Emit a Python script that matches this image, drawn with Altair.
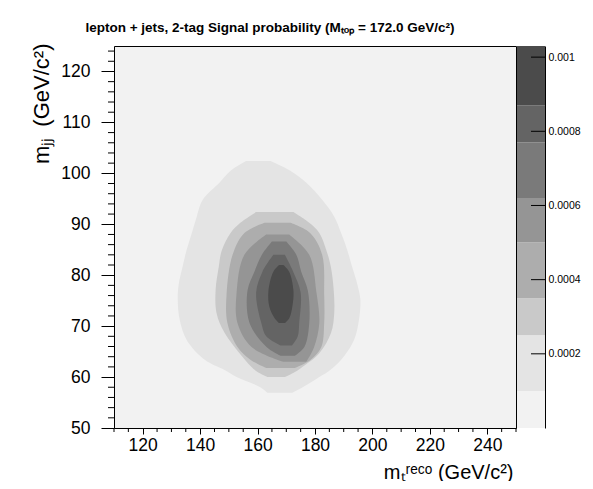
import altair as alt
import pandas as pd

# ---------------- data ----------------
X_DOMAIN = [110, 250]          # m_t^reco (GeV/c^2)
Y_DOMAIN = [50, 125]           # m_jj (GeV/c^2)
Z_MAX = 0.00103                # top of colour scale

# contour level edges (probability)
LEVEL_EDGES = [0.0, 0.0001, 0.00025, 0.00035, 0.0005, 0.00062, 0.00077, 0.00087, 0.00103]

# each filled contour: rows of (m_jj, left edge m_t, right edge m_t)
L1_Y  = [56.9, 58.1, 60.0, 61.4, 63.4, 67.3, 71.2, 75.2, 78.1, 81.7, 85.0, 88.3, 91.5, 94.8, 98.2, 100.5, 102.4]
L1_XL = [163.5, 160.6, 152.7, 148.5, 141.6, 135.3, 132.9, 132.2, 132.5, 133.9, 135.3, 137.1, 138.8, 140.9, 146.8, 150.6, 156.0]
L1_XR = [172.0, 176.0, 181.5, 185.3, 189.1, 193.6, 195.3, 195.8, 194.8, 192.9, 191.2, 189.1, 186.7, 182.5, 176.9, 171.4, 164.5]

L2_Y  = [60.0, 61.0, 62.0, 64.7, 68.7, 72.6, 77.2, 81.7, 84.8, 88.3, 90.3, 92.4]
L2_XL = [163.5, 160.0, 157.9, 153.7, 148.5, 145.7, 145.4, 146.5, 147.5, 150.6, 154.0, 159.5]
L2_XR = [169.5, 173.0, 175.6, 181.5, 185.6, 186.7, 186.5, 185.5, 184.0, 181.5, 178.0, 172.5]

L3_Y  = [61.8, 63.4, 65.9, 70.6, 76.2, 84.0, 88.3, 90.3]
L3_XL = [163.0, 157.5, 153.0, 149.5, 149.2, 151.3, 155.4, 162.5]
L3_XR = [173.0, 178.5, 182.2, 183.2, 183.2, 182.5, 178.3, 171.5]

L4_Y  = [63.0, 65.9, 70.6, 76.6, 84.0, 88.0]
L4_XL = [169.0, 157.9, 153.0, 152.7, 155.4, 163.0]
L4_XR = [177.0, 179.7, 181.5, 180.5, 178.0, 171.0]

L5_Y  = [64.2, 65.9, 70.6, 77.0, 80.7, 84.0, 86.6]
L5_XL = [168.0, 163.1, 157.2, 156.5, 158.9, 161.5, 165.0]
L5_XR = [173.0, 176.3, 178.0, 177.5, 175.2, 173.5, 170.0]

L6_Y  = [66.2, 68.0, 70.6, 76.6, 80.7, 84.0]
L6_XL = [168.0, 163.0, 161.3, 159.5, 161.7, 165.5]
L6_XR = [172.0, 174.0, 174.5, 175.0, 172.4, 169.5]

L7_Y  = [70.6, 71.5, 73.8, 77.0, 80.7, 82.0]
L7_XL = [167.5, 166.0, 164.1, 163.8, 165.5, 167.5]
L7_XR = [169.5, 171.0, 172.1, 172.5, 171.0, 169.0]

CONTOURS = {1: (L1_Y, L1_XL, L1_XR), 2: (L2_Y, L2_XL, L2_XR), 3: (L3_Y, L3_XL, L3_XR),
            4: (L4_Y, L4_XL, L4_XR), 5: (L5_Y, L5_XL, L5_XR), 6: (L6_Y, L6_XL, L6_XR),
            7: (L7_Y, L7_XL, L7_XR)}

X_MAJOR = [120, 140, 160, 180, 200, 220, 240]
X_MINOR = [110, 115, 125, 130, 135, 145, 150, 155, 165, 170, 175, 185, 190, 195,
           205, 210, 215, 225, 230, 235, 245, 250]
Y_MAJOR = [50, 60, 70, 80, 90, 100, 110, 120]
Y_MINOR = [52, 54, 56, 58, 62, 64, 66, 68, 72, 74, 76, 78, 82, 84, 86, 88, 92, 94, 96, 98,
           102, 104, 106, 108, 112, 114, 116, 118, 122, 124]
CBAR_TICKS = [0.0002, 0.0004, 0.0006, 0.0008, 0.001]

# ---------------- styling ----------------
PALETTE = ["#f2f2f2", "#e4e4e4", "#c9c9c9", "#adadad", "#959595", "#7a7a7a", "#646464", "#4b4b4b"]
LEVEL_IDS = [0, 1, 2, 3, 4, 5, 6, 7]
FONT = "Liberation Sans, Arial, Helvetica, sans-serif"
W, H = 402, 382

rows = []
for lvl, (ys_, xl_, xr_) in CONTOURS.items():
    for yv, a, b in zip(ys_, xl_, xr_):
        rows.append({"level": lvl, "y": yv, "xl": a, "xr": b})
contours = pd.DataFrame(rows)

bands = pd.DataFrame({"lo": LEVEL_EDGES[:-1], "hi": LEVEL_EDGES[1:], "level": LEVEL_IDS})

color_scale = alt.Scale(domain=LEVEL_IDS, range=PALETTE)
xs = alt.Scale(domain=X_DOMAIN, nice=False, zero=False)
ys = alt.Scale(domain=Y_DOMAIN, nice=False, zero=False)
cs = alt.Scale(domain=[0, Z_MAX], nice=False, zero=False)

x_axis = alt.Axis(values=X_MAJOR, tickSize=6, tickColor="black", labelPadding=2,
                  labelFont=FONT, labelFontSize=17.5, labelColor="black", domain=False,
                  grid=False, labelFlush=False,
                  title="mₜʳᵉᶜᵒ (GeV/c²)", titleFont=FONT, titleFontSize=20,
                  titleFontWeight="normal", titleColor="black", titleAnchor="end",
                  titleAlign="right", titleX=W - 3, titleY=50, titleBaseline="alphabetic")
y_axis = alt.Axis(values=Y_MAJOR, tickSize=13, tickColor="black", labelPadding=11,
                  labelFont=FONT, labelFontSize=17.5, labelColor="black", domain=False,
                  grid=False, labelFlush=False,
                  title="mⱼⱼ\u2002(GeV/c²)", titleFont=FONT, titleFontSize=22,
                  titleFontWeight="normal", titleColor="black", titleAnchor="end",
                  titleAngle=270, titleAlign="right", titleX=-66, titleY=-3,
                  titleBaseline="alphabetic")
c_axis = alt.Axis(orient="right", offset=29, values=CBAR_TICKS, format=".4~f", ticks=False,
                  domain=True, domainColor="black", domainWidth=1, labelFont=FONT,
                  labelFontSize=10.5, labelColor="black", labelPadding=3, title=None,
                  grid=False, labelFlush=False)

areas = []
for lvl in range(1, 8):
    areas.append(
        alt.Chart(contours)
        .transform_filter(alt.datum.level == lvl)
        .mark_area(orient="horizontal", interpolate="catmull-rom", opacity=1)
        .encode(
            y=alt.Y("y:Q", scale=ys, axis=y_axis),
            x=alt.X("xl:Q", scale=xs, axis=x_axis),
            x2=alt.X2("xr"),
            color=alt.Color("level:O", scale=color_scale, legend=None),
        )
    )

y_minor = alt.Chart(pd.DataFrame({"v": Y_MINOR})).mark_rule(color="black").encode(
    y=alt.Y("v:Q", scale=ys, axis=y_axis), x=alt.value(-6), x2=alt.value(0))
x_minor = alt.Chart(pd.DataFrame({"v": X_MINOR})).mark_rule(color="black").encode(
    x=alt.X("v:Q", scale=xs, axis=x_axis), y=alt.value(H), y2=alt.value(H + 4))

main = alt.layer(*areas, y_minor, x_minor)

cbar = alt.Chart(bands).mark_rect().encode(
    y=alt.Y("lo:Q", scale=cs, axis=c_axis), y2="hi:Q",
    x=alt.value(W + 1), x2=alt.value(W + 29),
    color=alt.Color("level:O", scale=color_scale, legend=None))
cticks = alt.Chart(pd.DataFrame({"v": CBAR_TICKS})).mark_rule(color="black").encode(
    y=alt.Y("v:Q", scale=cs, axis=c_axis), x=alt.value(W + 15), x2=alt.value(W + 29))
colorbar = alt.layer(cbar, cticks)

chart = (
    alt.layer(main, colorbar)
    .resolve_scale(y="independent")
    .properties(
        width=W, height=H,
        autosize=alt.AutoSizeParams(type="none"),
        padding={"left": 106, "top": 38, "right": 69, "bottom": 53},
        title=alt.TitleParams(
            "lepton + jets, 2-tag Signal probability (Mₜₒₚ = 172.0 GeV/c²)",
            font=FONT, fontSize=13.5, fontWeight="bold", color="black",
            anchor="middle", frame="group", dx=-45, dy=16, offset=14,
            baseline="alphabetic"),
    )
    .configure(background="white")
    .configure_view(fill="#f2f2f2", stroke="black", strokeWidth=1)
)

chart.save("out.html", embed_options={"renderer": "svg", "actions": False})
